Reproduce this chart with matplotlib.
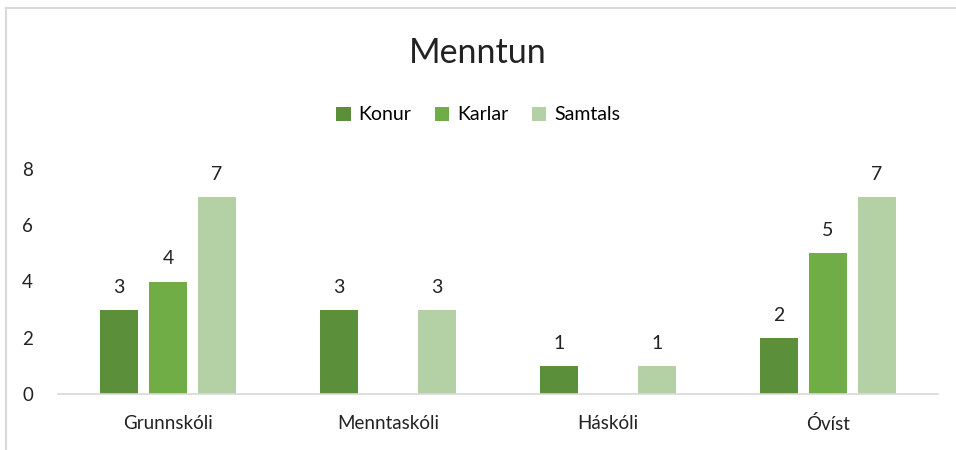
import matplotlib.pyplot as plt
import numpy as np
from matplotlib.patches import Rectangle

plt.rcParams['font.family'] = ['Lato', 'DejaVu Sans']

categories = ["Grunnskóli", "Menntaskóli", "Háskóli", "Óvíst"]
konur = [3, 3, 1, 2]
karlar = [4, None, None, 5]
samtals = [7, 3, 1, 7]

series = [("Konur", konur, "#5b8f3a"),
          ("Karlar", karlar, "#70ad47"),
          ("Samtals", samtals, "#b4d1a6")]

fig = plt.figure(figsize=(9.56, 4.5), dpi=100)
ax = fig.add_axes([58 / 956, 56 / 450, 880 / 956, 225 / 450])

x = np.arange(len(categories))
width = 0.175
offsets = [-0.222, 0.0, 0.222]

handles = []
for (name, vals, color), off in zip(series, offsets):
    xs = [xi + off for xi, v in zip(x, vals) if v is not None]
    ys = [v for v in vals if v is not None]
    bars = ax.bar(xs, ys, width, color=color, label=name)
    handles.append(bars)
    for xi, v in zip(xs, ys):
        ax.text(xi, v + 0.5, str(v), ha='center', va='bottom', fontsize=14, color='#222222')

ax.set_xlim(-0.5, len(categories) - 0.5)
ax.set_ylim(0, 8)
ax.set_yticks([0, 2, 4, 6, 8])
ax.set_xticks(x)
ax.set_xticklabels(categories)
ax.tick_params(axis='both', length=0, labelsize=13.5, colors='#222222')
ax.tick_params(axis='y', pad=18)
ax.tick_params(axis='x', pad=15)
for s in ['top', 'right', 'left']:
    ax.spines[s].set_visible(False)
ax.spines['bottom'].set_color('#d9d9d9')
ax.spines['bottom'].set_linewidth(1.2)

fig.text(0.5, 1 - 53 / 450, "Menntun", ha='center', va='center', fontsize=24.5, color='#222222')
fig.legend(handles=handles, loc='center', bbox_to_anchor=(0.5, 1 - 115 / 450), ncol=3,
           frameon=False, fontsize=14, handlelength=0.75, handleheight=0.75,
           handletextpad=0.4, columnspacing=1.2)

fig.patches.append(Rectangle((6 / 956, -0.1), 1.2, 1 - 7.5 / 450 + 0.1, transform=fig.transFigure,
                             fill=False, edgecolor='#d9d9d9', linewidth=1.5))

fig.savefig("out.png", dpi=100)
